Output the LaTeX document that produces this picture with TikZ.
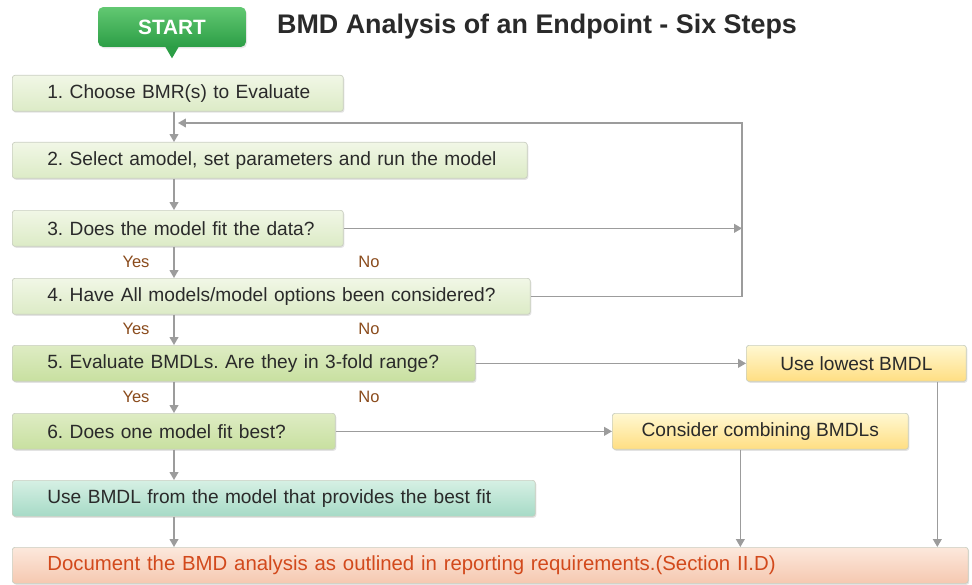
\documentclass[tikz,border=0pt]{standalone}
\usepackage{fontspec}
\setmainfont{Liberation Sans}
\usepackage{tikz}
\usetikzlibrary{arrows.meta,shadows,calc}
\frenchspacing
\definecolor{linegray}{HTML}{9C9C9C}
\definecolor{boxline}{HTML}{C9CEC0}
\definecolor{txtgray}{HTML}{2A2A2A}
\definecolor{ynbrown}{HTML}{8A4B1C}
\definecolor{docred}{HTML}{D2491C}
\definecolor{lgtop}{HTML}{F1F7E6}
\definecolor{lgbot}{HTML}{DCEBC6}
\definecolor{mgtop}{HTML}{DEECC4}
\definecolor{mgbot}{HTML}{C8E0A0}
\definecolor{tltop}{HTML}{D6F0E4}
\definecolor{tlbot}{HTML}{A6DAC6}
\definecolor{sltop}{HTML}{FCE8DC}
\definecolor{slbot}{HTML}{F5C8B0}
\definecolor{yltop}{HTML}{FFF8D2}
\definecolor{ylbot}{HTML}{FFDE82}
\definecolor{sttop}{HTML}{62C872}
\definecolor{stbot}{HTML}{2C9E46}
\tikzstyle{plainbox}=[rectangle, rounded corners=1.5pt, draw=boxline, line width=0.4pt,
  anchor=north west, inner xsep=0pt, inner ysep=0pt, minimum height=0.72cm,
  text=txtgray, font=\fontsize{10.9}{12}\selectfont,
  drop shadow={opacity=0.22, shadow xshift=0.6pt, shadow yshift=-0.8pt}]
\tikzstyle{stepbox}=[plainbox, align=left, execute at begin node={\hspace*{0.7cm}}]
\tikzstyle{lightgreen}=[top color=lgtop, bottom color=lgbot]
\tikzstyle{midgreen}=[top color=mgtop, bottom color=mgbot]
\tikzstyle{teal}=[top color=tltop, bottom color=tlbot]
\tikzstyle{salmon}=[top color=sltop, bottom color=slbot]
\tikzstyle{yellowbox}=[plainbox, top color=yltop, bottom color=ylbot]
\tikzstyle{flow}=[draw=linegray, line width=0.8pt, -{Triangle[width=5pt,length=4.5pt]}]
\tikzstyle{yn}=[text=ynbrown, font=\fontsize{9.4}{11}\selectfont]

\begin{document}
\begin{tikzpicture}[x=0.02cm,y=-0.02cm]
\useasboundingbox (0,0) rectangle (972,584);
% heading
\node[rectangle, rounded corners=3pt, minimum width=2.96cm, minimum height=0.8cm,
  top color=sttop, bottom color=stbot,
  drop shadow={opacity=0.2, shadow xshift=0.6pt, shadow yshift=-0.8pt},
  text=white, font=\fontsize{11.8}{14}\bfseries] (start) at (172,27) {START};
\fill[stbot] ($(start.south)+(-7,-1)$) -- ($(start.south)+(7,-1)$) -- ($(start.south)+(0,11)$) -- cycle;
\node[font=\fontsize{15.3}{17}\bfseries, text=txtgray] (title) at (537,27) {BMD Analysis of an Endpoint - Six Steps};

% steps
\node[stepbox, lightgreen, text width=6.62cm] (b1) at (12,75) {1. Choose BMR(s) to Evaluate};
\node[stepbox, lightgreen, text width=10.30cm] (b2) at (12,142) {2. Select amodel, set parameters and run the model};
\node[stepbox, lightgreen, text width=6.62cm] (b3) at (12,210) {3. Does the model fit the data?};
\node[stepbox, lightgreen, text width=10.36cm] (b4) at (12,278) {4. Have All models/model options been considered?};
\node[stepbox, midgreen, text width=9.26cm] (b5) at (12,345) {5. Evaluate BMDLs. Are they in 3-fold range?};
\node[stepbox, midgreen, text width=6.46cm] (b6) at (12,413) {6. Does one model fit best?};
\node[stepbox, teal, text width=10.46cm] (b7) at (12,480) {Use BMDL from the model that provides the best fit};
\node[stepbox, salmon, text width=19.12cm, text=docred, font=\fontsize{11.6}{13}\selectfont] (b8) at (12,547) {Document the BMD analysis as outlined in reporting requirements.(Section II.D)};
\node[yellowbox, minimum width=4.40cm] (low) at (746,345) {Use lowest BMDL};
\node[yellowbox, minimum width=5.92cm] (comb) at (612,413) {Consider combining BMDLs};

% main line
\coordinate (spine) at (174,0);
\foreach \a/\b in {b1/b2,b2/b3,b3/b4,b4/b5,b5/b6,b6/b7,b7/b8} {
	\draw[flow] (\a.south -| spine) -- (\b.north -| spine);
}
\foreach \y in {262,329,397} {
	\node[yn] (yes\y) at (136,\y) {Yes};
	\node[yn] (no\y) at (369,\y) {No};
}

% loop back
\coordinate (rail) at (742,123);
\coordinate (back) at (178,123);
\draw[flow] (b4.east) -| (rail) -- (back);
\draw[flow] (b3.east) -- (b3.east -| rail);

% side branches
\draw[flow] (b5.east) -- (low.west);
\draw[flow] (b6.east) -- (comb.west);
\draw[flow] ([xshift=-0.4cm]comb.south) -- ([xshift=-0.4cm]comb.south |- b8.north);
\draw[flow] ([xshift=1.62cm]low.south) -- ([xshift=1.62cm]low.south |- b8.north);
\end{tikzpicture}
\end{document}
